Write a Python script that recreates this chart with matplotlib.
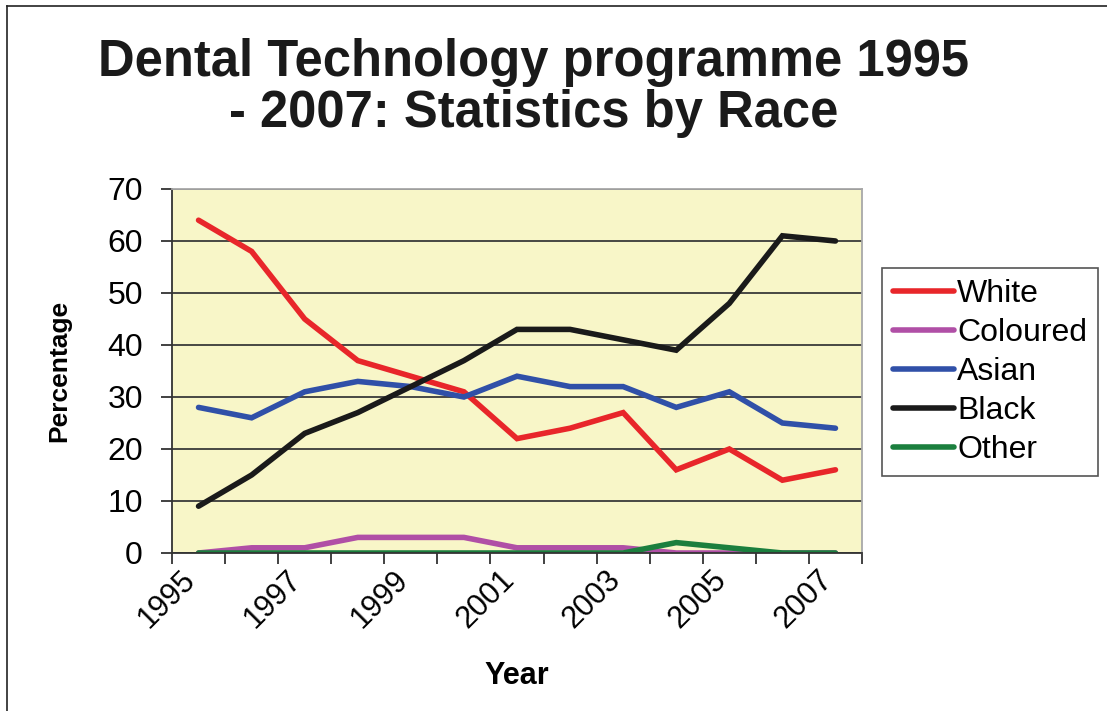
import numpy as np
import matplotlib
matplotlib.use("Agg")
import matplotlib.pyplot as plt
from matplotlib.lines import Line2D
from matplotlib.transforms import ScaledTranslation

# Data (percent of students per year)
years = ["1995", "1996", "1997", "1998", "1999", "2000", "2001",
         "2002", "2003", "2004", "2005", "2006", "2007"]
white = [64, 58, 45, 37, 34, 31, 22, 24, 27, 16, 20, 14, 16]
coloured = [0, 1, 1, 3, 3, 3, 1, 1, 1, 0, 0, 0, 0]
asian = [28, 26, 31, 33, 32, 30, 34, 32, 32, 28, 31, 25, 24]
black = [9, 15, 23, 27, 32, 37, 43, 43, 41, 39, 48, 61, 60]
other = [0, 0, 0, 0, 0, 0, 0, 0, 0, 2, 1, 0, 0]

series_names = ["White", "Coloured", "Asian", "Black", "Other"]
series_colors = ["#E8262A", "#B04FA6", "#3050A8", "#1A1A1A", "#1B7F3E"]

plt.rcParams["font.family"] = ["Liberation Sans", "DejaVu Sans"]

fig = plt.figure(figsize=(11.07, 7.11), dpi=100)
ax = fig.add_axes([172 / 1107, 158 / 711, 690 / 1107, 364 / 711])
ax.set_facecolor("#F8F6C8")

x = np.arange(len(years))
for vals, name, col in zip([white, coloured, asian, black, other],
                           series_names, series_colors):
    ax.plot(x, vals, color=col, linewidth=4.0, label=name,
            solid_joinstyle="miter", solid_capstyle="round")

# Axes limits and grid
ax.set_xlim(-0.5, len(years) - 0.5)
ax.set_ylim(0, 70)
ax.set_yticks(np.arange(0, 71, 10))
ax.yaxis.grid(True, color="#3A3A3A", linewidth=1.3)
ax.set_axisbelow(True)

# Category axis: ticks at the boundaries, labels every other year
ax.set_xticks(np.arange(-0.5, len(years), 1.0))
ax.set_xticklabels([])
ax.set_xticks(x[::2], minor=True)
ax.set_xticklabels(years[::2], minor=True, rotation=45, ha="right",
                   va="top", rotation_mode="anchor", fontsize=22)
ax.tick_params(axis="x", which="minor", length=0, pad=10)
ax.tick_params(axis="x", which="major", length=8, width=1.3,
               color="#333333", direction="out")
ax.tick_params(axis="y", length=8, width=1.3, color="#333333",
               labelsize=23, pad=13)

# nudge the rotated year labels to the left like the original
shift = ScaledTranslation(-18 / 100, 2 / 100, fig.dpi_scale_trans)
for lab in ax.get_xticklabels(minor=True):
    lab.set_transform(lab.get_transform() + shift)

for side in ["left", "bottom"]:
    ax.spines[side].set_color("#333333")
    ax.spines[side].set_linewidth(1.3)
for side in ["top", "right"]:
    ax.spines[side].set_color("#A8A8A8")
    ax.spines[side].set_linewidth(1.3)

ax.set_ylabel("Percentage", fontsize=19, fontweight="bold", labelpad=26)
ax.set_xlabel("Year", fontsize=22, fontweight="bold", labelpad=19)

# Title
fig.text(534 / 1107, 1 - 88 / 711,
         "Dental Technology programme 1995\n- 2007: Statistics by Race",
         ha="center", va="center", fontsize=36.5, fontweight="bold",
         linespacing=1.06, color="#1A1A1A")

# Legend on the right
leg = fig.legend(loc="upper left", bbox_to_anchor=(882 / 1107, 1 - 268 / 711),
                 fontsize=23, handlelength=1.9, handletextpad=0.1,
                 labelspacing=0.28, borderpad=0.35, fancybox=False,
                 framealpha=1, edgecolor="#555555", borderaxespad=0)
leg.get_frame().set_linewidth(1.2)

# Chart border (left and top edges)
fig.add_artist(Line2D([7 / 1107, 7 / 1107], [0, 1 - 6 / 711],
                      color="#222222", linewidth=1.2))
fig.add_artist(Line2D([7 / 1107, 1], [1 - 6 / 711, 1 - 6 / 711],
                      color="#222222", linewidth=1.2))

fig.savefig("out.png", dpi=100)
